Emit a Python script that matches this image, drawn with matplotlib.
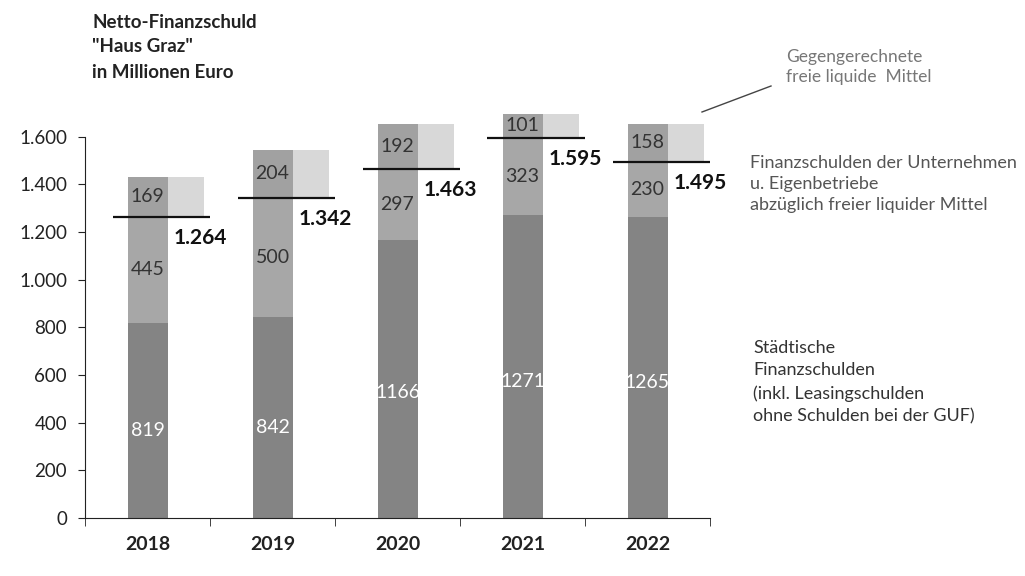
import matplotlib
matplotlib.use('Agg')
import matplotlib.pyplot as plt
from matplotlib.ticker import FuncFormatter

# Values (millions of euro).
years = ['2018', '2019', '2020', '2021', '2022']
city_debt = [819, 842, 1166, 1271, 1265]
company_debt = [445, 500, 297, 323, 230]
liquid_funds = [169, 204, 192, 101, 158]
net_debt = [1264, 1342, 1463, 1595, 1495]

plt.rcParams['font.family'] = ['Lato', 'DejaVu Sans']


def de_format(v, pos=None):
	"""German thousands separator."""
	return '{:,.0f}'.format(v).replace(',', '.')


fig = plt.figure(figsize=(10.25, 5.76), dpi=100)
ax = fig.add_axes([85 / 1025, 58 / 576, 625 / 1025, 417 / 576])

x = list(range(len(years)))
bar_w = 0.32
ext_w = 0.29

# Stacked bars.
ax.bar(x, city_debt, width=bar_w, color='#848484', zorder=2)
ax.bar(x, company_debt, width=bar_w, bottom=city_debt, color='#a7a7a7', zorder=2)
ax.bar(x, liquid_funds, width=bar_w, bottom=net_debt, color='#a1a1a1', zorder=2)
# Lighter extension of the liquid-funds block, to the right of the bar.
ax.bar([i + bar_w / 2 for i in x], liquid_funds, width=ext_w, bottom=net_debt,
	align='edge', color='#d8d8d8', zorder=2)

for i in x:
	# Net-debt line and value.
	ax.hlines(net_debt[i], i - 0.28, i + 0.5, color='#111111', lw=1.6, zorder=3)
	ax.text(i + 0.21, net_debt[i] - 88, de_format(net_debt[i]), ha='left',
		va='center', fontsize=15, fontweight='bold', color='#111111')
	# Segment labels.
	ax.text(i, city_debt[i] * 0.45, str(city_debt[i]), ha='center', va='center',
		fontsize=14, color='white', zorder=4)
	ax.text(i, city_debt[i] + company_debt[i] / 2, str(company_debt[i]),
		ha='center', va='center', fontsize=14, color='#333333', zorder=4)
	ax.text(i, net_debt[i] + liquid_funds[i] / 2, str(liquid_funds[i]),
		ha='center', va='center', fontsize=14, color='#333333', zorder=4)

ax.set_xlim(-0.5, len(years) - 0.5)
ax.set_ylim(0, 1750)
ax.set_yticks(range(0, 1601, 200))
ax.yaxis.set_major_formatter(FuncFormatter(de_format))
ax.set_xticks(x)
ax.set_xticklabels(years, fontweight='bold')
ax.set_xticks([i - 0.5 for i in range(len(years) + 1)], minor=True)
ax.tick_params(axis='x', which='major', length=0, labelsize=14, pad=13,
	labelcolor='#222222')
ax.tick_params(axis='x', which='minor', length=6, direction='out', color='#222222')
ax.tick_params(axis='y', length=5, direction='out', labelsize=13.5, pad=8,
	color='#222222', labelcolor='#222222')

for side in ['top', 'right']:
	ax.spines[side].set_visible(False)
ax.spines['left'].set_bounds(0, 1600)
ax.spines['left'].set_color('#222222')
ax.spines['bottom'].set_color('#222222')

# Title block.
fig.text(92 / 1025, 1 - 22 / 576, 'Netto-Finanzschuld', fontsize=13.5,
	fontweight='bold', va='center', color='#222222')
fig.text(92 / 1025, 1 - 47 / 576, '"Haus Graz"', fontsize=13.5,
	fontweight='bold', va='center', color='#222222')
fig.text(92 / 1025, 1 - 72 / 576, 'in Millionen Euro', fontsize=13.5,
	fontweight='bold', va='center', color='#222222')

# Annotations on the right.
fig.add_artist(plt.Line2D([702 / 1025, 771 / 1025], [1 - 112 / 576, 1 - 86 / 576],
	color='#444444', lw=1))
fig.text(786 / 1025, 1 - 67 / 576, 'Gegengerechnete\nfreie liquide  Mittel',
	fontsize=12.5, va='center', color='#777777', linespacing=1.25)
fig.text(750 / 1025, 1 - 184 / 576,
	'Finanzschulden der Unternehmen\nu. Eigenbetriebe\nabzüglich freier liquider Mittel',
	fontsize=13, va='center', color='#555555', linespacing=1.4)
fig.text(753 / 1025, 1 - 382 / 576,
	'Städtische\nFinanzschulden\n(inkl. Leasingschulden\nohne Schulden bei der GUF)',
	fontsize=13, va='center', color='#333333', linespacing=1.5)

fig.savefig('out.png', dpi=100)
